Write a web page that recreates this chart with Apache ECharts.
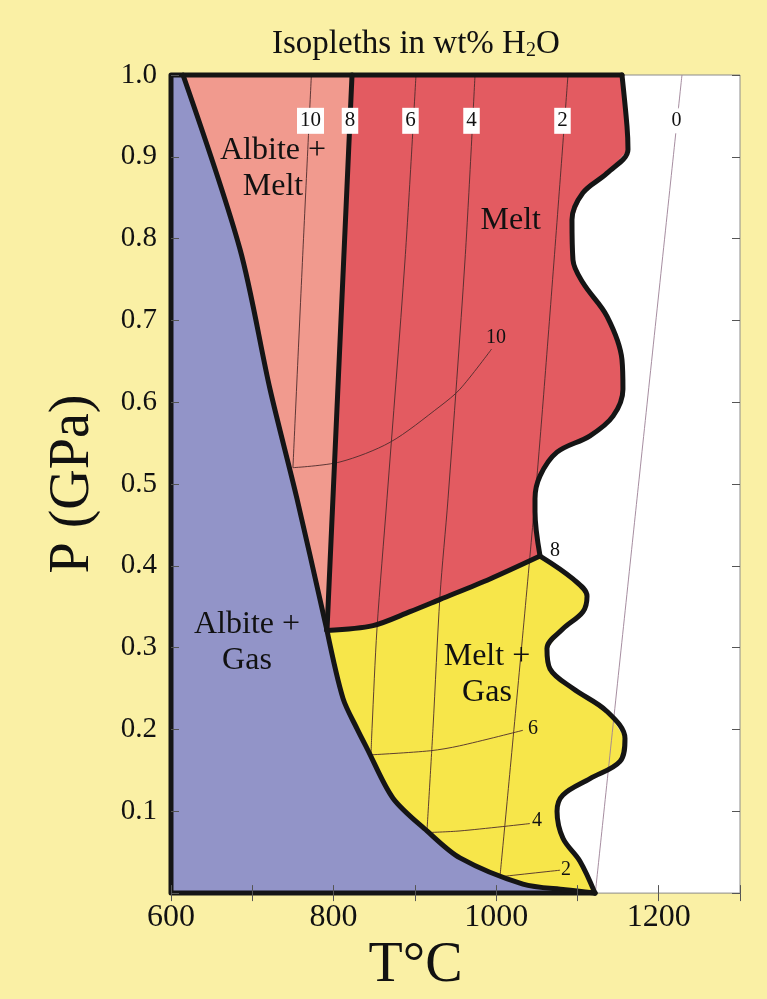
<!DOCTYPE html>
<html lang="en">
<head>
<meta charset="UTF-8">
<title>Albite - H2O</title>
<script src="https://cdn.jsdelivr.net/npm/echarts@6/dist/echarts.min.js"></script>
<style>
  html, body { margin: 0; padding: 0; background: #faf0a5; }
  #main { width: 767px; height: 999px; }
</style>
</head>
<body>
<div id="main"></div>
<script>
// axis ticks
const xTickLabels = [600, 800, 1000, 1200];
const yTickLabels = ['0.1', '0.2', '0.3', '0.4', '0.5', '0.6', '0.7', '0.8', '0.9', '1.0'];

// phase boundaries, [T in °C, P in GPa]
const frameLine = [[1121.6, 0], [600, 0], [600, 1], [1154.8, 1]];
const albiteSolidus = [[614.8, 1], [684.9, 0.787], [721.8, 0.616], [755, 0.482], [791.9, 0.321]];
const albiteLiquidus = [[822.7, 1], [791.9, 0.321]];
const gasSaturation = [[791.9, 0.321], [848.5, 0.327], [894, 0.344], [931, 0.359], [992.4, 0.384], [1054, 0.412]];
const dryBoundary = [[791.9, 0.321], [811.6, 0.238], [828.8, 0.201], [841.1, 0.177], [873.1, 0.116],
  [914.9, 0.076], [955.5, 0.043], [1033, 0.011], [1085, 0.004], [1121.6, 0]];
const meltUpper = [[1154.8, 1], [1161, 0.937], [1162.2, 0.909], [1136.4, 0.880], [1106.8, 0.856],
  [1093.3, 0.823], [1094.5, 0.774], [1106.8, 0.746], [1136.4, 0.705], [1154.8, 0.652], [1156, 0.616],
  [1143.8, 0.583], [1115.5, 0.559], [1074.9, 0.539], [1054, 0.510], [1047.8, 0.482], [1047.8, 0.466], [1054, 0.412]];
const meltLower = [[1054, 0.412], [1094.5, 0.384], [1111.8, 0.363], [1106.8, 0.344], [1082.2, 0.323],
  [1062.5, 0.299], [1066.3, 0.274], [1094.5, 0.250], [1136.4, 0.222], [1158.5, 0.189], [1152.4, 0.161],
  [1115.5, 0.140], [1082.2, 0.120], [1074.9, 0.100], [1082.2, 0.067], [1103.1, 0.039], [1121.6, 0]];

// isopleths (wt% H2O)
const iso10 = [[772.7, 1], [762.4, 0.787], [750, 0.52]];
const iso6 = [[901.4, 1], [887.9, 0.774], [865.7, 0.482], [853.4, 0.323], [847.3, 0.201], [846, 0.169]];
const iso4 = [[974, 1], [961.7, 0.774], [940.8, 0.482], [930.9, 0.363], [922.3, 0.201], [914.9, 0.076]];
const iso2 = [[1088.4, 1], [1050.3, 0.51], [1004.7, 0.02]];
const iso0 = [[1228.6, 1], [1173.3, 0.482], [1122, 0]];
const isoCurve10 = [[750, 0.52], [807.9, 0.527], [869.4, 0.551], [930.9, 0.595], [955.5, 0.616], [994.4, 0.665]];
const isoCurve6 = [[846, 0.169], [919, 0.174], [955, 0.18], [1033, 0.199]];
const isoCurve4 = [[914.9, 0.074], [955.5, 0.076], [1041.6, 0.085]];
const isoCurve2 = [[1004.7, 0.02], [1078.6, 0.028]];

// labels
const topLabels = [['10', 771.6, 0.944], ['8', 820.2, 0.944], ['6', 894.6, 0.944], ['4', 969.7, 0.944], ['2', 1081.6, 0.944]];
const zeroLabel = [['0', 1222, 0.944]];
const curveLabels = [['10', 999.8, 0.679], ['8', 1072.4, 0.418], ['6', 1045.3, 0.201], ['4', 1050.3, 0.088], ['2', 1086, 0.028]];
const fieldNames = [['Albite +\nMelt', 725.5, 0.885], ['Melt', 1018, 0.822], ['Albite +\nGas', 693.5, 0.306], ['Melt +\nGas', 988.7, 0.267]];

const serif = '"Liberation Serif", "DejaVu Serif", serif';

function rev(a) { return a.slice().reverse(); }

const zones = [
  { color: '#9294c8', points: [[600, 0], [600, 1]].concat(albiteSolidus, dryBoundary.slice(1)) },
  { color: '#f19a8e', points: albiteSolidus.concat(rev(albiteLiquidus).slice(1)) },
  { color: '#e35b61', points: [albiteLiquidus[0]].concat(meltUpper, rev(gasSaturation).slice(1)) },
  { color: '#f7e64a', points: gasSaturation.concat(meltLower.slice(1), rev(dryBoundary).slice(1)) }
];

var myChart = echarts.init(document.getElementById('main'));

function thick(data, smooth) {
  return {
    type: 'line', data: data, symbol: 'none', smooth: smooth, clip: false, silent: true, z: 4,
    lineStyle: { color: '#151515', width: 5, join: 'round', cap: 'round' }
  };
}
function thin(data, color) {
  return {
    type: 'line', data: data, symbol: 'none', smooth: 0.3, silent: true, z: 2,
    lineStyle: { color: color || '#4d2b2b', width: 0.9 }
  };
}
function labels(list, size, box) {
  return {
    type: 'scatter', silent: true, z: 8, symbolSize: 1,
    itemStyle: { color: 'transparent', opacity: 1 },
    data: list.map(function (d) { return [d[1], d[2], d[0]]; }),
    label: {
      show: true, position: 'inside', color: '#111', opacity: 1, fontFamily: serif, fontSize: size,
      lineHeight: size + 4,
      backgroundColor: box ? '#fff' : 'transparent', padding: box ? [1, 3, 0, 3] : 0,
      formatter: function (p) { return p.data[2]; }
    }
  };
}

var tickStyle = { inside: true, length: 8, lineStyle: { color: '#555', width: 1 } };

var option = {
  backgroundColor: '#faf0a5',
  animation: false,
  title: {
    text: 'Isopleths in wt% H{sub|2}O',
    left: 272, top: 28, padding: 0,
    textStyle: {
      fontFamily: serif, fontSize: 33, fontWeight: 'normal', color: '#111',
      rich: { sub: { fontFamily: serif, fontSize: 20, verticalAlign: 'bottom', color: '#111' } }
    }
  },
  grid: { left: 171, right: 27, top: 75, bottom: 104, show: true, backgroundColor: '#fff', borderColor: '#8c8c8c', borderWidth: 1 },
  xAxis: [
    {
      type: 'value', min: 600, max: 1300, interval: 100, position: 'bottom', z: 6,
      axisLine: { show: false }, axisTick: tickStyle, splitLine: { show: false },
      axisLabel: {
        fontFamily: serif, fontSize: 32, color: '#111', margin: 8,
        formatter: function (v) { return xTickLabels.indexOf(v) >= 0 ? String(v) : ''; }
      },
      name: 'T°C', nameLocation: 'middle', nameGap: 24,
      nameTextStyle: { fontFamily: serif, fontSize: 56, color: '#111', padding: [0, 80, 0, 0] }
    },
    {
      type: 'value', min: 600, max: 1300, interval: 100, position: 'top', z: 6,
      axisLine: { show: false }, axisTick: tickStyle, splitLine: { show: false }, axisLabel: { show: false }
    }
  ],
  yAxis: [
    {
      type: 'value', min: 0, max: 1, interval: 0.1, position: 'left', z: 6,
      axisLine: { show: false }, axisTick: tickStyle, splitLine: { show: false },
      axisLabel: {
        fontFamily: serif, fontSize: 29, color: '#111', margin: 14,
        formatter: function (v) { var s = v.toFixed(1); return yTickLabels.indexOf(s) >= 0 ? s : ''; }
      },
      name: 'P (GPa)', nameLocation: 'middle', nameRotate: 90, nameGap: 70,
      nameTextStyle: { fontFamily: serif, fontSize: 56, color: '#111' }
    },
    {
      type: 'value', min: 0, max: 1, interval: 0.1, position: 'right', z: 6,
      axisLine: { show: false }, axisTick: tickStyle, splitLine: { show: false }, axisLabel: { show: false }
    }
  ],
  series: [
    {
      type: 'custom', coordinateSystem: 'cartesian2d', silent: true, z: 1,
      data: zones.map(function (zn) { return zn.points[0]; }),
      renderItem: function (params, api) {
        var zn = zones[params.dataIndex];
        return {
          type: 'polygon',
          shape: { points: zn.points.map(function (p) { return api.coord(p); }) },
          style: { fill: zn.color, stroke: zn.color, lineWidth: 0.5 }
        };
      }
    },
    thin(iso10), thin(iso6), thin(iso4), thin(iso2), thin(iso0, '#9c8095'),
    thin(isoCurve10), thin(isoCurve6), thin(isoCurve4), thin(isoCurve2),
    thick(frameLine, false),
    thick(albiteSolidus, 0.3), thick(albiteLiquidus, false), thick(gasSaturation, 0.3),
    thick(dryBoundary, 0.3), thick(meltUpper, 0.35), thick(meltLower, 0.35),
    labels(topLabels, 21, true), labels(zeroLabel, 20, true),
    labels(curveLabels, 20, false), labels(fieldNames, 32, false)
  ]
};
option && myChart.setOption(option);
</script>
</body>
</html>
